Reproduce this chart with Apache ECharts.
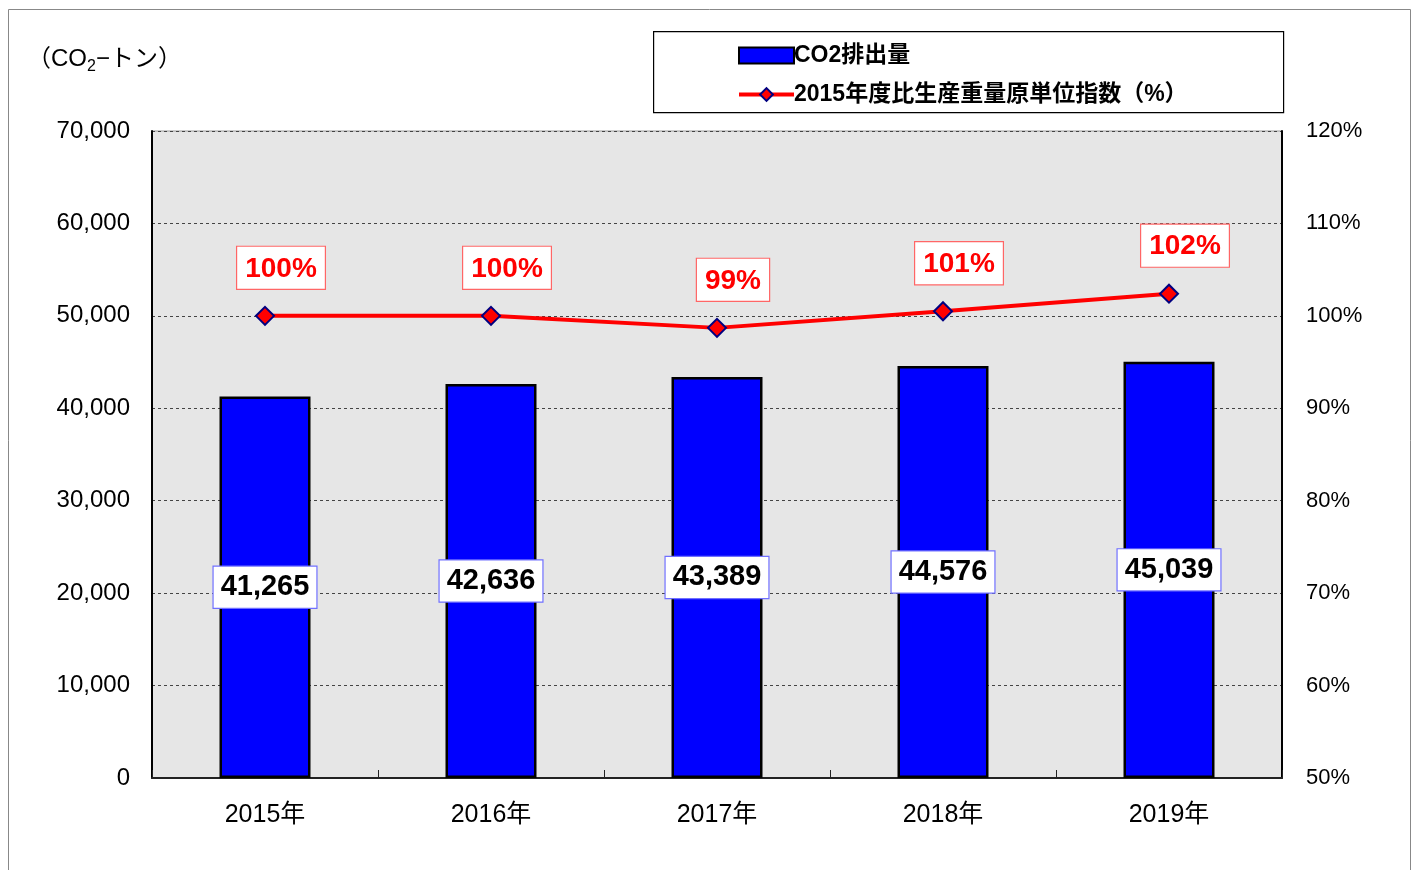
<!DOCTYPE html>
<html>
<head>
<meta charset="utf-8">
<script src="https://cdn.jsdelivr.net/npm/echarts@6/dist/echarts.min.js"></script>
<style>
  html, body { margin: 0; padding: 0; background: #fff; }
  #main { width: 1412px; height: 870px; }
</style>
</head>
<body>
<div id="main"></div>
<script>
// 年度
var years = ['2015年', '2016年', '2017年', '2018年', '2019年'];
// CO2排出量（CO2-トン）
var co2 = [41265, 42636, 43389, 44576, 45039];
// 2015年度比生産重量原単位指数（%）
var index = [100, 100, 98.7, 100.5, 102.4];

var font = '"Liberation Sans", "Noto Sans CJK JP", sans-serif';

var chart = echarts.init(document.getElementById('main'));
var option = {
    backgroundColor: '#fff',
    textStyle: { fontFamily: font },
    animation: false,
    graphic: [
        {   // 外枠
            type: 'rect', left: 6, top: 7, z: -10,
            shape: { width: 1402, height: 870 },
            style: { fill: 'none', stroke: '#888', lineWidth: 1 }
        },
        {   // 凡例の枠
            type: 'rect', left: 653, top: 31,
            shape: { width: 630, height: 81 },
            style: { fill: '#fff', stroke: '#000', lineWidth: 1.2 }
        },
        {
            type: 'text', left: 27, top: 47,
            style: {
                text: '（CO{s|2}−トン）',
                rich: { s: { fontSize: 16, padding: [15, 0, 0, 0], fontFamily: font } },
                fontSize: 24, fill: '#000', fontFamily: font
            }
        }
    ],
    legend: {
        orient: 'vertical',
        left: 732, top: 39,
        itemWidth: 55, itemHeight: 16,
        itemGap: 16,
        textStyle: { fontSize: 23, fontWeight: 'bold', color: '#000', padding: [0, 0, 0, -5] },
        data: [
            { name: 'CO2排出量', icon: 'rect' },
            { name: '2015年度比生産重量原単位指数（%）', lineStyle: { width: 4 } }
        ]
    },
    grid: { left: 152, right: 130, top: 131, bottom: 92, show: true,
            backgroundColor: '#e6e6e6', borderColor: '#999', borderWidth: 1 },
    xAxis: {
        type: 'category',
        data: years,
        axisLine: { lineStyle: { color: '#222', width: 2 } },
        axisTick: { show: true, inside: true, length: 8, lineStyle: { color: '#222' } },
        axisLabel: { fontSize: 25, color: '#000', margin: 25 }
    },
    yAxis: [
        {
            type: 'value', min: 0, max: 70000, interval: 10000,
            axisLine: { show: true, lineStyle: { color: '#000', width: 2 } },
            axisTick: { show: false },
            axisLabel: { fontSize: 24, color: '#000', margin: 22,
                formatter: function (v) { return v.toLocaleString('en-US'); } },
            splitLine: { lineStyle: { color: '#444', type: [3, 3], width: 1 } }
        },
        {
            type: 'value', min: 50, max: 120, interval: 10,
            axisLine: { show: true, lineStyle: { color: '#000', width: 2 } },
            axisTick: { show: false },
            axisLabel: { fontSize: 22, color: '#000', margin: 24, formatter: '{value}%' },
            splitLine: { show: false }
        }
    ],
    series: [
        {
            name: 'CO2排出量',
            type: 'bar',
            data: co2,
            barWidth: 91,
            itemStyle: { color: '#0000ff', borderColor: '#000', borderWidth: 2.5 },
            label: {
                show: true, position: 'inside',
                formatter: function (p) { return p.value.toLocaleString('en-US'); },
                fontSize: 29, fontWeight: 'bold', color: '#000',
                backgroundColor: '#fff', borderColor: '#7070ff', borderWidth: 1.2,
                padding: [7, 7, 5, 7]
            }
        },
        {
            name: '2015年度比生産重量原単位指数（%）',
            type: 'line',
            yAxisIndex: 1,
            data: index,
            symbol: 'diamond', symbolSize: 18,
            lineStyle: { color: '#ff0000', width: 4 },
            itemStyle: { color: '#ff0000', borderColor: '#000080', borderWidth: 2 },
            label: {
                show: true, position: 'top', offset: [16, -12],
                formatter: function (p) { return Math.round(p.value) + '%'; },
                fontSize: 28, fontWeight: 'bold', color: '#ff0000',
                backgroundColor: '#fff', borderColor: '#ff6666', borderWidth: 1.2,
                padding: [8, 8, 6, 8]
            }
        }
    ]
};
chart.setOption(option);
</script>
</body>
</html>
